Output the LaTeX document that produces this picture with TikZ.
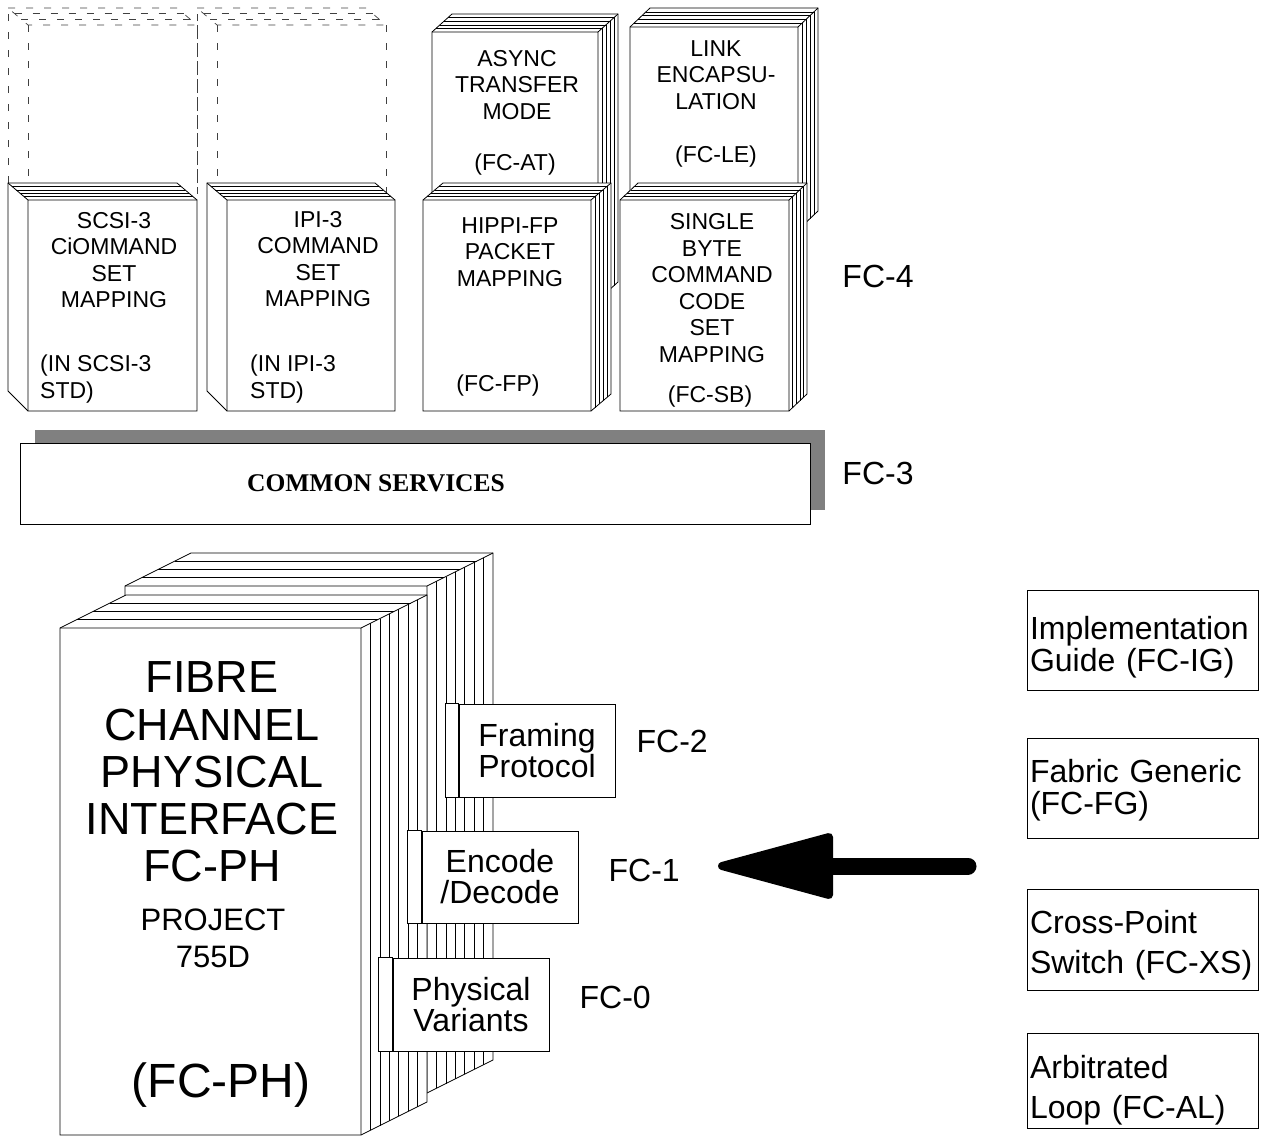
\documentclass[tikz,border=0pt]{standalone}
\usepackage{fontspec}
\setmainfont{Liberation Sans}
\newfontfamily\csfont{Liberation Serif}
\usetikzlibrary{positioning}
\begin{document}
\begin{tikzpicture}[x=1pt, y=-1pt,
  page/.style={draw, fill=white, line width=0.8pt},
  leaf/.style={line width=0.6pt},
  ghost/.style={draw=black!75, line width=0.7pt, dash pattern=on 7pt off 11pt},
  booktext/.style={font=\fontsize{23}{26.6}\selectfont, align=center, inner sep=0pt},
  layerbox/.style={draw, fill=white, line width=0.8pt, minimum width=156pt, inner sep=0pt, align=center, font=\fontsize{32}{31}\selectfont},
  fclabel/.style={font=\fontsize{32}{34}\selectfont, inner sep=0pt},
  sidebox/.style={draw, line width=0.8pt, text width=225pt, inner xsep=3pt, inner ysep=0pt, align=left, font=\fontsize{32}{32}\selectfont}]
  \useasboundingbox (0,0) rectangle (1262,1136);

  % dashed outlines behind the command set books
  \foreach \xa in {28,217}{
    \draw[ghost] (\xa-20,183) -- (\xa-20,8);
    \draw[ghost] (\xa-20,8) -- (\xa+149,8) -- (\xa+169,25) -- (\xa,25) -- cycle;
    \draw[ghost] (\xa,25) -- (\xa,200) (\xa+169,25) -- (\xa+169,200);
    \foreach \t in {0.33,0.67}
      \draw[ghost] (\xa-20*\t,25-17*\t) -- (\xa+169-20*\t,25-17*\t);
  }

  % FC-4 books with pages on the right
  \foreach \xa/\ya/\xb/\yb/\dx/\dy in {432/32/598/300/20/18, 630/27/798/230/20/19, 423/200/591/411/20/17, 620/200/789/411/18/17}{
    \filldraw[page] (\xa,\ya) -- (\xa+\dx,\ya-\dy) -- (\xb+\dx,\ya-\dy) -- (\xb+\dx,\yb-\dy) -- (\xb,\yb) -- (\xa,\yb) -- cycle;
    \draw[page, fill=none] (\xa,\ya) -- (\xb,\ya) -- (\xb,\yb) (\xb,\ya) -- (\xb+\dx,\ya-\dy);
    \foreach \t in {0.2,0.4,0.6,0.8}
      \draw[leaf] (\xa+\t*\dx,\ya-\t*\dy) -- (\xb+\t*\dx,\ya-\t*\dy) -- (\xb+\t*\dx,\yb-\t*\dy);
  }

  % books with the spine on the left
  \foreach \xa/\xb in {28/197, 227/395}{
    \filldraw[page] (\xa,411) -- (\xa-20,391) -- (\xa-20,183) -- (\xb-20,183) -- (\xb,200) -- (\xb,411) -- cycle;
    \draw[page, fill=none] (\xa,411) -- (\xa,200) -- (\xb,200) (\xa,200) -- (\xa-20,183);
    \foreach \t in {0.2,0.4,0.6,0.8}
      \draw[leaf] (\xa-20*\t,200-17*\t) -- (\xb-20*\t,200-17*\t);
  }

  \node[booktext] (scsi) at (114,260) {SCSI-3\\CiOMMAND\\SET\\MAPPING};
  \node[booktext, align=left, anchor=west] (scsistd) at (40,379) {(IN SCSI-3\\STD)};
  \node[booktext] (ipi) at (318,259) {IPI-3\\COMMAND\\SET\\MAPPING};
  \node[booktext, align=left, anchor=west] (ipistd) at (250,379) {(IN IPI-3\\STD)};
  \node[booktext] (async) at (517,85) {ASYNC\\TRANSFER\\MODE};
  \node[booktext] (fcat) at (515,165) {(FC-AT)};
  \node[booktext] (link) at (716,75) {LINK\\ENCAPSU-\\LATION};
  \node[booktext] (fcle) at (716,157) {(FC-LE)};
  \node[booktext] (hippi) at (510,252) {HIPPI-FP\\PACKET\\MAPPING};
  \node[booktext] (fcfp) at (498,386) {(FC-FP)};
  \node[booktext] (sbcs) at (712,288) {SINGLE\\BYTE\\COMMAND\\CODE\\SET\\MAPPING};
  \node[booktext] (fcsb) at (710,397) {(FC-SB)};
  \node[fclabel] (fc4) at (878,276) {FC-4};

  % FC-3
  \fill[black!50] (35,430) rectangle (825,510);
  \node[draw, fill=white, line width=0.8pt, minimum width=790pt, minimum height=81pt, inner sep=0pt] (common) at (415,483.5) {};
  \node[font=\csfont\bfseries\fontsize{25.5}{28}\selectfont, inner sep=0pt] (cstext) at (376,483) {COMMON SERVICES};
  \node[fclabel] (fc3) at (878,473) {FC-3};

  % FC-PH volumes
  \foreach \xa/\ya/\xb/\yb in {125/586/427/1093, 60/628/361/1135}{
    \filldraw[page] (\xa,\ya) -- (\xa+66,\ya-33) -- (\xb+66,\ya-33) -- (\xb+66,\yb-33) -- (\xb,\yb) -- (\xa,\yb) -- cycle;
    \draw[page, fill=none] (\xa,\ya) -- (\xb,\ya) -- (\xb,\yb) (\xb,\ya) -- (\xb+66,\ya-33);
    \foreach \t in {0.25,0.5,0.75}
      \draw[leaf] (\xa+66*\t,\ya-33*\t) -- (\xb+66*\t,\ya-33*\t);
    \foreach \k in {1,...,6}
      \draw[leaf] (\xb+66*\k/7,\ya-33*\k/7) -- (\xb+66*\k/7,\yb-33*\k/7);
  }
  \node[font=\fontsize{45}{47.2}\selectfont, align=center, inner sep=0pt] (fcph) at (212,772) {FIBRE\\CHANNEL\\PHYSICAL\\INTERFACE\\FC-PH};
  \node[font=\fontsize{31}{37}\selectfont, align=center, inner sep=0pt] (project) at (213,938) {PROJECT\\755D};
  \node[font=\fontsize{48}{50}\selectfont, inner sep=0pt] (fcphtag) at (221,1085) {(FC-PH)};

  % FC-2, FC-1, FC-0
  \node[layerbox, minimum height=93pt] (framing) at (537,750.5) {Framing\\Protocol};
  \filldraw[page] (framing.north west) -- ++(-13,0) |- (framing.south west) -- cycle;
  \node[layerbox, minimum height=92pt] (encode) at (500,877) {Encode\\/Decode};
  \filldraw[page] (encode.north west) -- ++(-14,0) |- (encode.south west) -- cycle;
  \node[layerbox, minimum height=93pt] (physical) at (471,1004.5) {Physical\\Variants};
  \filldraw[page] (physical.north west) -- ++(-14,0) |- (physical.south west) -- cycle;
  \node[fclabel, right=21pt of framing, yshift=9pt] (fc2) {FC-2};
  \node[fclabel, right=30pt of encode, yshift=7pt] (fc1) {FC-1};
  \node[fclabel, right=30pt of physical, yshift=7.5pt] (fc0) {FC-0};

  % arrow
  \coordinate (arrowtail) at (968,866);
  \coordinate (arrowbase) at (829,866);
  \coordinate (arrowtip) at (722,866);
  \draw[line width=17pt, line cap=round] (arrowtail) -- (arrowbase);
  \filldraw[line width=8pt, line join=round] (arrowtip) -- ([yshift=29pt]arrowbase) -- ([yshift=-29pt]arrowbase) -- cycle;

  % related documents
  \node[sidebox, minimum height=100pt] (guide) at (1142.5,640) {\rule{0pt}{37pt}Implementation\\Guide (FC-IG)};
  \node[sidebox, minimum height=100pt] (fabric) at (1142.5,788) {\rule{0pt}{27pt}Fabric Generic\\(FC-FG)};
  \node[sidebox, minimum height=101pt, font=\fontsize{32}{40}\selectfont] (xpoint) at (1142.5,939.5) {\rule{0pt}{35pt}Cross-Point\\Switch (FC-XS)};
  \node[sidebox, minimum height=95pt, font=\fontsize{32}{40}\selectfont] (aloop) at (1142.5,1080.5) {\rule{0pt}{43pt}Arbitrated\\Loop (FC-AL)};
\end{tikzpicture}
\end{document}
